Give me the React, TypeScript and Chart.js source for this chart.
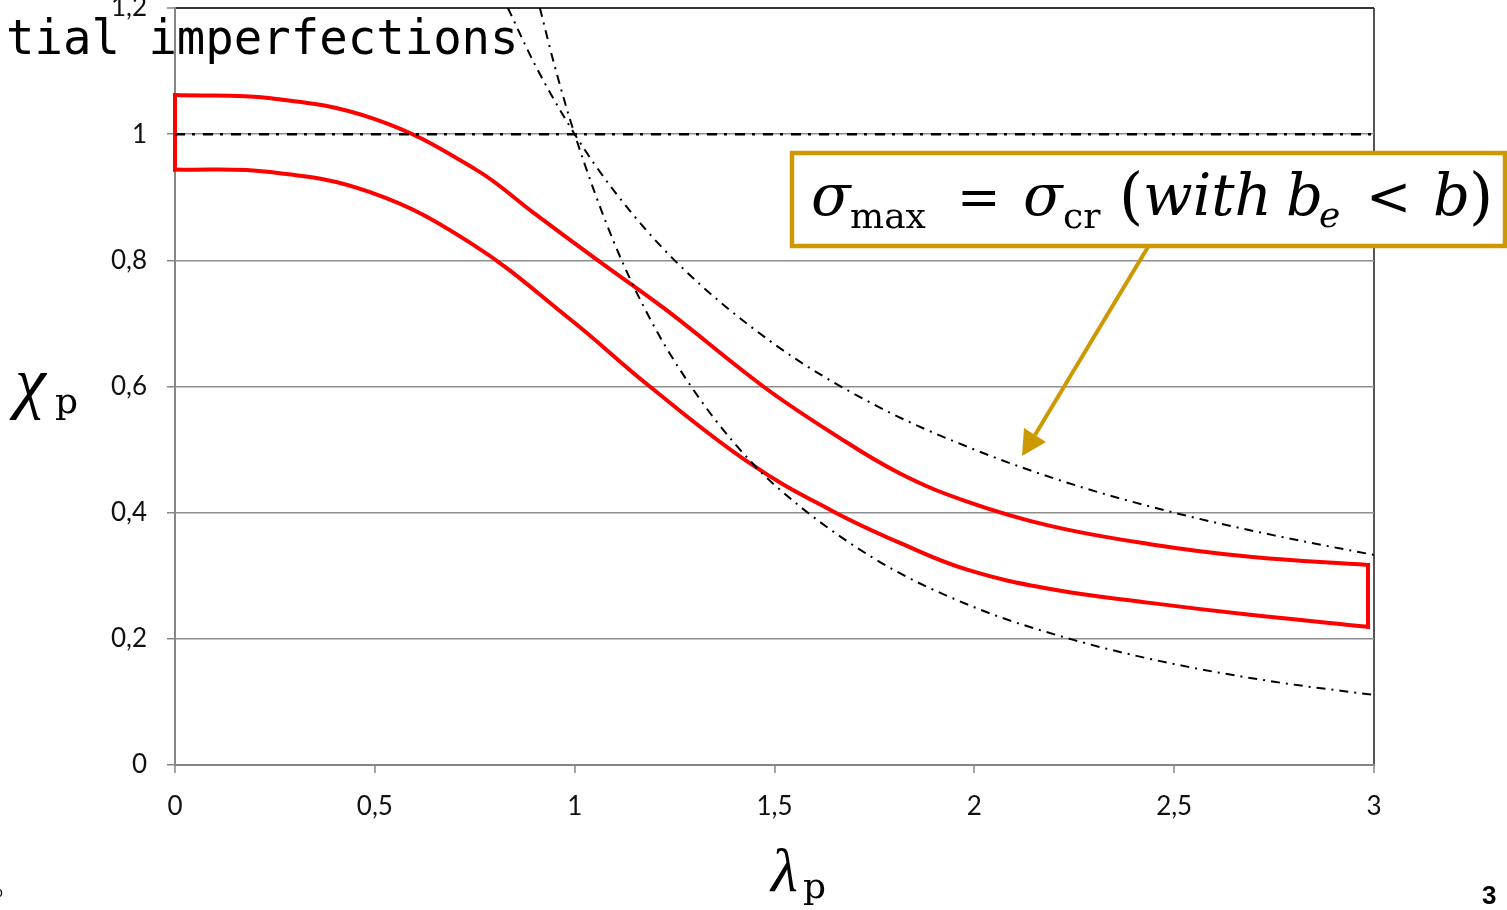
import React, { useEffect, useRef } from "react";
import { Chart, registerables } from "chart.js";

Chart.register(...registerables);

// Red band: upper and lower bounds (λp, χp)
const upperLambda = [0, 0.24, 0.5, 0.75, 0.9, 1.058, 1.23, 1.472, 1.647, 1.814, 1.98, 2.19, 2.44, 2.69, 2.985];
const upperChi = [1.062, 1.057, 1.024, 0.945, 0.874, 0.8, 0.721, 0.6, 0.525, 0.462, 0.418, 0.379, 0.35, 0.33, 0.317];
const lowerLambda = [0, 0.238, 0.488, 0.738, 0.988, 1.188, 1.439, 1.647, 1.814, 1.98, 2.19, 2.44, 2.69, 2.985];
const lowerChi = [0.944, 0.94, 0.908, 0.828, 0.707, 0.6, 0.478, 0.402, 0.352, 0.31, 0.279, 0.257, 0.238, 0.219];

// Dash-dot reference curves
const curveALambda = [0.833, 0.9, 1, 1.1, 1.25, 1.5, 1.75, 2, 2.25, 2.5, 2.75, 3];
const curveAChi = [1.2, 1.111, 1.0, 0.909, 0.8, 0.667, 0.571, 0.5, 0.444, 0.4, 0.364, 0.333];
const curveBLambda = [0.913, 0.95, 1, 1.1, 1.2, 1.3, 1.4, 1.5, 1.75, 2, 2.25, 2.5, 2.75, 3];
const curveBChi = [1.2, 1.108, 1.0, 0.826, 0.694, 0.592, 0.51, 0.444, 0.327, 0.25, 0.198, 0.16, 0.132, 0.111];
const plateauLambda = [0, 3];
const plateauChi = [1, 1];

const xTickLabels = ["0", "0,5", "1", "1,5", "2", "2,5", "3"];
const yTickLabels = ["0", "0,2", "0,4", "0,6", "0,8", "1", "1,2"];

const pts = (xs: number[], ys: number[]) => xs.map((x, i) => ({ x, y: ys[i] }));

export default function App() {
  const ref = useRef<HTMLCanvasElement | null>(null);

  useEffect(() => {
    if (!ref.current) return;
    const red = "#ff0000";
    const leftEdge = [
      { x: upperLambda[0], y: upperChi[0] },
      { x: lowerLambda[0], y: lowerChi[0] },
    ];
    const rightEdge = [
      { x: upperLambda[upperLambda.length - 1], y: upperChi[upperChi.length - 1] },
      { x: lowerLambda[lowerLambda.length - 1], y: lowerChi[lowerChi.length - 1] },
    ];
    const redCommon = {
      borderColor: red,
      borderWidth: 4,
      pointRadius: 0,
      fill: false,
      clip: false as any,
      borderCapStyle: "square" as const,
      borderJoinStyle: "miter" as const,
      order: 5,
    };
    const dashCommon = {
      borderColor: "#000",
      borderWidth: 2,
      pointRadius: 0,
      fill: false,
      borderDash: [9, 6, 2, 6],
      cubicInterpolationMode: "monotone" as const,
      order: 1,
    };
    const chart = new Chart(ref.current, {
      type: "line",
      data: {
        datasets: [
          { ...redCommon, data: pts(upperLambda, upperChi), tension: 0.4 },
          { ...redCommon, data: pts(lowerLambda, lowerChi), tension: 0.4 },
          { ...redCommon, data: leftEdge },
          { ...redCommon, data: rightEdge },
          { ...dashCommon, data: pts(curveALambda, curveAChi) },
          { ...dashCommon, data: pts(curveBLambda, curveBChi) },
          {
            ...dashCommon,
            borderWidth: 2.5,
            borderDash: [10, 7, 3, 8],
            data: pts(plateauLambda, plateauChi),
          },
        ],
      },
      options: {
        responsive: false,
        animation: false,
        devicePixelRatio: 1,
        layout: { padding: { left: 0, top: 8, right: 133, bottom: 0 } },
        plugins: { legend: { display: false }, tooltip: { enabled: false } },
        scales: {
          x: {
            type: "linear",
            min: 0,
            max: 3,
            ticks: {
              stepSize: 0.5,
              padding: 18,
              color: "#111",
              font: { family: "Lato", size: 26 },
              maxRotation: 0,
              callback: (_v: any, i: number) => xTickLabels[i],
            },
            grid: {
              drawOnChartArea: true,
              color: (c: any) => (c.index === 6 ? "#555" : "rgba(0,0,0,0)"),
              lineWidth: 2,
              tickLength: 8,
              tickColor: "#868686",
              tickWidth: 1.5,
            },
            border: { color: "#868686", width: 2 },
            afterFit: (s: any) => {
              s.height = 145;
              s.paddingLeft = 0;
              s.paddingRight = 0;
            },
          },
          y: {
            type: "linear",
            min: 0,
            max: 1.2,
            ticks: {
              stepSize: 0.2,
              padding: 20,
              color: "#111",
              font: { family: "Lato", size: 26 },
              callback: (_v: any, i: number) => yTickLabels[i],
            },
            grid: {
              color: (c: any) => (c.index === 6 ? "#333" : "#8e8e8e"),
              lineWidth: (c: any) => (c.index === 6 ? 2 : 1.5),
              tickLength: 8,
              tickColor: "#868686",
              tickWidth: 1.5,
            },
            border: { color: "#868686", width: 2 },
            afterFit: (s: any) => {
              s.width = 175;
              s.paddingTop = 0;
              s.paddingBottom = 0;
            },
          },
        },
      },
    });
    return () => chart.destroy();
  }, []);

  const gold = "#cc9900";
  const dv = "'DejaVu Serif', 'Liberation Serif', serif";
  const lib = "'Liberation Serif', 'DejaVu Serif', serif";

  return (
    <div style={{ position: "absolute", left: 0, top: 0, width: 1507, height: 910, background: "#fff", overflow: "hidden" }}>
      <canvas ref={ref} width={1507} height={910} style={{ position: "absolute", left: 0, top: 0 }} />
      <svg width={1507} height={910} style={{ position: "absolute", left: 0, top: 0, pointerEvents: "none" }}>
        <text x={6} y={54} fontFamily="'DejaVu Sans Mono', monospace" fontSize={47.3} fill="#000">
          tial imperfections
        </text>

        <line x1={1148} y1={247} x2={1035} y2={435} stroke={gold} strokeWidth={4} />
        <polygon points="1022,456 1024,428 1046,442" fill={gold} />

        <rect x={792} y={153} width={713} height={93} fill="#fff" stroke={gold} strokeWidth={4.5} />
        <g fontFamily={dv} fill="#000">
          <text x={811} y={215} fontSize={58} fontStyle="italic">σ</text>
          <text x={850} y={228} fontSize={36}>max</text>
          <text x={957} y={215} fontSize={52}>=</text>
          <text x={1023} y={215} fontSize={58} fontStyle="italic">σ</text>
          <text x={1063} y={228} fontSize={36}>cr</text>
          <text x={1119} y={217} fontSize={62}>(</text>
          <text x={1143} y={215} fontSize={58} fontStyle="italic">with</text>
          <text x={1286} y={215} fontSize={58} fontStyle="italic">b</text>
          <text x={1319} y={227} fontSize={36} fontStyle="italic">e</text>
          <text x={1366} y={215} fontSize={54}>&lt;</text>
          <text x={1433} y={215} fontSize={58} fontStyle="italic">b</text>
          <text x={1469} y={217} fontSize={62}>)</text>
        </g>

        <g fill="#000">
          <text x={15} y={405} fontFamily={lib} fontSize={70} fontStyle="italic">χ</text>
          <text x={55} y={413} fontFamily={dv} fontSize={36}>p</text>
          <text x={771} y={891} fontFamily={lib} fontSize={62} fontStyle="italic">λ</text>
          <text x={803} y={898} fontFamily={dv} fontSize={36}>p</text>
        </g>

        <text x={1482} y={904} fontFamily="'Liberation Sans', Arial, sans-serif" fontWeight="bold" fontSize={26} fill="#000">3</text>
        <text x={-5} y={897} fontFamily="'Liberation Sans', Arial, sans-serif" fontSize={14} fill="#000">o</text>
      </svg>
    </div>
  );
}
